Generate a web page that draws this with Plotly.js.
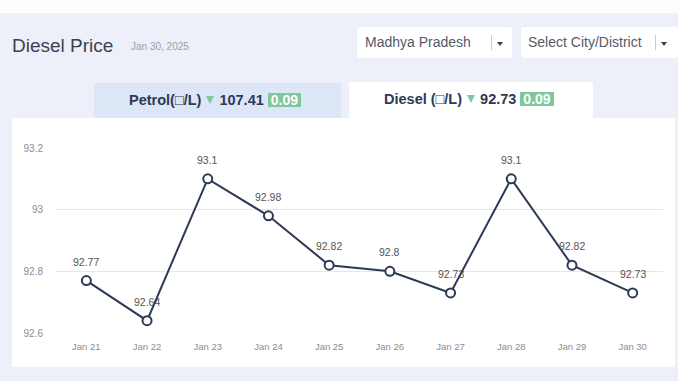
<!DOCTYPE html>
<html>
<head>
<meta charset="utf-8">
<script src="https://cdn.plot.ly/plotly-3.0.1.min.js"></script>
<style>
  html, body { margin:0; padding:0; }
  body { width:678px; height:381px; background:#edf0f8; position:relative; overflow:hidden; font-family:"Liberation Sans", Arial, sans-serif; }
  .topstrip { position:absolute; left:0; top:0; width:678px; height:13px; background:#fdfdfe; border-bottom:1px solid #f0f1f4; }
  .title { position:absolute; left:12px; top:35px; font-size:19px; color:#3b4252; }
  .date { position:absolute; left:131px; top:41px; font-size:10px; color:#9a9ea8; }
  .dd { position:absolute; top:27px; height:31px; background:#fff; border-radius:3px; font-size:14px; color:#565b66; line-height:31px; }
  .dd .sep { position:absolute; top:8px; width:1px; height:15px; background:#c9ccd3; }
  .dd .arr { position:absolute; top:15px; width:0; height:0; border-left:3.5px solid transparent; border-right:3.5px solid transparent; border-top:4.5px solid #3a404c; }
  .tab { position:absolute; height:35px; font-size:14.5px; font-weight:bold; color:#2c3a55; line-height:35px; }
  .tri { display:inline-block; width:0; height:0; border-left:4.5px solid transparent; border-right:4.5px solid transparent; border-top:8px solid #7fc79d; margin:0 5px 0 5px; vertical-align:1px; }
  .badge { display:inline-block; background:#7fc79d; color:#fff; padding:0 3px; line-height:14px; font-size:14px; margin-left:4px; }
  .card { position:absolute; left:12px; top:118px; width:663px; height:249px; background:#fff; }
  #chart { position:absolute; left:0; top:0; width:678px; height:381px; }
</style>
</head>
<body>
<div class="topstrip"></div>
<div class="title">Diesel Price</div>
<div class="date">Jan 30, 2025</div>
<div class="dd" style="left:357px;width:155px;"><span style="position:absolute;left:8px;">Madhya Pradesh</span><span class="sep" style="left:134px;"></span><span class="arr" style="left:140px;"></span></div>
<div class="dd" style="left:521px;width:157px;"><span style="position:absolute;left:7px;">Select City/District</span><span class="sep" style="left:134px;"></span><span class="arr" style="left:140px;"></span></div>
<div class="card"></div>
<div class="tab" style="left:94px;top:83px;width:247px;background:#dde6f7;"><span style="position:absolute;left:35px;">Petrol(□/L)<span class="tri"></span>107.41<span class="badge">0.09</span></span></div>
<div class="tab" style="left:349px;top:82px;width:244px;height:36px;background:#fff;"><span style="position:absolute;left:35px;">Diesel (□/L)<span class="tri"></span>92.73<span class="badge">0.09</span></span></div>
<div id="chart"></div>
<script>
const dates = ["Jan 21","Jan 22","Jan 23","Jan 24","Jan 25","Jan 26","Jan 27","Jan 28","Jan 29","Jan 30"];
const dieselPrices = [92.77, 92.64, 93.1, 92.98, 92.82, 92.8, 92.73, 93.1, 92.82, 92.73];
const yTicks = [92.6, 92.8, 93, 93.2];
const yTickLabels = ["92.6", "92.8", "93", "93.2"];

const trace = {
  x: dates,
  y: dieselPrices,
  type: "scatter",
  mode: "lines+markers",
  line: {color: "#2d3a55", width: 2},
  marker: {size: 9, color: "#ffffff", line: {color: "#2d3a55", width: 2}},
  hoverinfo: "none",
  cliponaxis: false
};

const annotations = dates.map((d, i) => ({
  x: d, y: dieselPrices[i], xref: "x", yref: "y",
  text: String(dieselPrices[i]), showarrow: false, yshift: 19,
  font: {family: "Liberation Sans, Arial, sans-serif", size: 10.5, color: "#555555"}
}));

const layout = {
  width: 678, height: 381,
  margin: {l: 56, r: 15, t: 148, b: 48, pad: 0},
  paper_bgcolor: "rgba(0,0,0,0)",
  plot_bgcolor: "rgba(0,0,0,0)",
  showlegend: false,
  font: {family: "Liberation Sans, Arial, sans-serif"},
  xaxis: {
    type: "category", range: [-0.5, 9.5], showgrid: false, zeroline: false,
    showline: false, ticks: "", ticklabelstandoff: 6,
    tickfont: {size: 9.5, color: "#8a8d94"}, fixedrange: true
  },
  yaxis: {
    range: [92.6, 93.2], tickvals: yTicks, ticktext: yTickLabels,
    showgrid: true, gridcolor: "#e6e7ea", gridwidth: 1, zeroline: false, showline: false,
    ticks: "", ticklabelstandoff: 12,
    tickfont: {size: 10, color: "#8a8d94"}, fixedrange: true
  },
  annotations: annotations
};

Plotly.newPlot("chart", [trace], layout, {displayModeBar: false, staticPlot: true});
</script>
</body>
</html>
